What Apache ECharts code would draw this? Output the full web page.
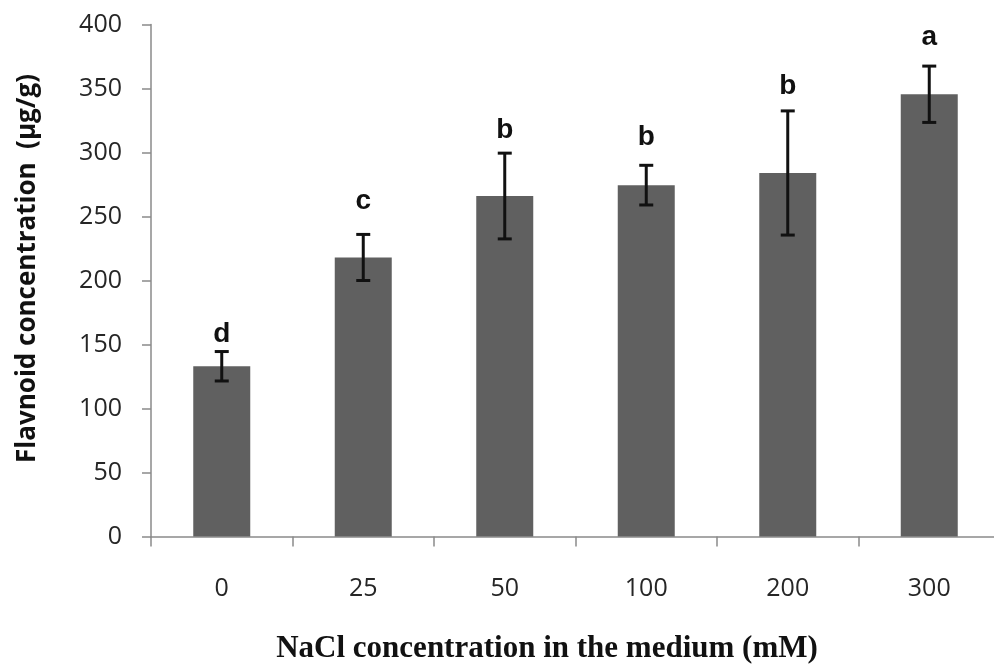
<!DOCTYPE html>
<html>
<head>
<meta charset="utf-8">
<script src="https://cdn.jsdelivr.net/npm/echarts@6/dist/echarts.min.js"></script>
<style>
html,body{margin:0;padding:0;background:#fff;}
#chart{width:994px;height:664px;}
</style>
</head>
<body>
<div id="chart"></div>
<script>
const categories = ['0', '25', '50', '100', '200', '300'];
const means = [133, 218, 266, 274.5, 284, 345.5];
const errors = [11.5, 18, 33.5, 15.5, 48.5, 22];
const letters = ['d', 'c', 'b', 'b', 'b', 'a'];
const letterAt = [151, 255, 310, 304.5, 345, 383];
const yTicks = [0, 400, 50];

const chart = echarts.init(document.getElementById('chart'));

const errData = categories.map((c, i) => [i, means[i] - errors[i], means[i] + errors[i]]);
const letterData = categories.map((c, i) => [i, letterAt[i]]);

chart.setOption({
  animation: false,
  grid: { left: 151, top: 24.5, height: 512, width: 849, outerBoundsMode: 'none', containLabel: false },
  xAxis: {
    type: 'category',
    data: categories,
    boundaryGap: true,
    axisLine: { lineStyle: { color: '#8a8a8a', width: 1.5 } },
    axisTick: { show: true, length: 10, lineStyle: { color: '#8a8a8a', width: 1.5 } },
    axisLabel: { margin: 40, fontFamily: 'Open Sans', fontSize: 25, color: '#262626' },
    name: 'NaCl concentration in the medium (mM)',
    nameLocation: 'middle',
    nameGap: 97,
    nameTextStyle: { fontFamily: 'Liberation Serif', fontWeight: 'bold', fontSize: 31, color: '#111', padding: [0, 57, 0, 0] }
  },
  yAxis: {
    type: 'value',
    min: yTicks[0], max: yTicks[1], interval: yTicks[2],
    axisLine: { show: true, lineStyle: { color: '#8a8a8a', width: 1.5 } },
    axisTick: { show: true, length: 9, lineStyle: { color: '#8a8a8a', width: 1.5 } },
    splitLine: { show: false },
    axisLabel: { margin: 29, fontFamily: 'Open Sans', fontSize: 25, color: '#262626' },
    name: 'Flavnoid concentration  (µg/g)',
    nameLocation: 'middle',
    nameRotate: 90,
    nameGap: 110,
    nameTextStyle: { fontFamily: 'Open Sans', fontWeight: 'bold', fontSize: 26, color: '#111', padding: [0, 0, 0, 24] }
  },
  series: [
    {
      type: 'bar',
      data: means,
      barWidth: 57,
      itemStyle: { color: '#606060' }
    },
    {
      type: 'custom',
      data: errData,
      z: 5,
      renderItem: function (params, api) {
        const x = api.coord([api.value(0), 0])[0];
        const lo = api.coord([api.value(0), api.value(1)])[1];
        const hi = api.coord([api.value(0), api.value(2)])[1];
        const hw = 7;
        const st = { stroke: '#111', lineWidth: 3 };
        return {
          type: 'group',
          children: [
            { type: 'line', shape: { x1: x, y1: lo, x2: x, y2: hi }, style: st },
            { type: 'line', shape: { x1: x - hw, y1: lo, x2: x + hw, y2: lo }, style: st },
            { type: 'line', shape: { x1: x - hw, y1: hi, x2: x + hw, y2: hi }, style: st }
          ]
        };
      }
    },
    {
      type: 'custom',
      data: letterData,
      z: 6,
      renderItem: function (params, api) {
        const p = api.coord([api.value(0), api.value(1)]);
        return {
          type: 'text',
          x: p[0],
          y: p[1] + 5,
          style: {
            text: letters[params.dataIndex],
            align: 'center',
            verticalAlign: 'bottom',
            font: 'bold 28px "Liberation Sans"',
            fill: '#111'
          }
        };
      }
    }
  ]
});
</script>
</body>
</html>
